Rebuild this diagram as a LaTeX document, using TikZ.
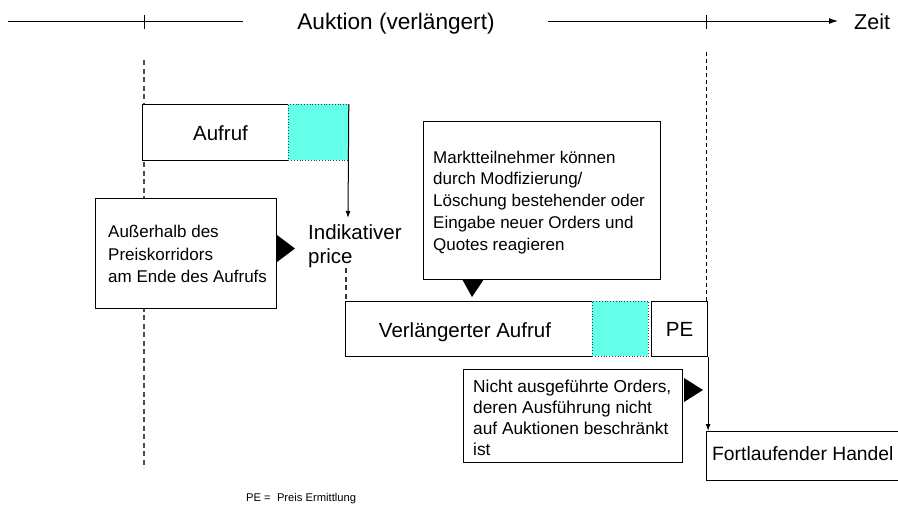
\documentclass[tikz,border=0pt]{standalone}
\usepackage{fontspec}
\setmainfont{Liberation Sans}
\usetikzlibrary{arrows.meta}
\definecolor{cyanfill}{RGB}{100,255,232}
\begin{document}
\begin{tikzpicture}[x=1pt,y=-1pt,
  box/.style={draw=black, line width=1.1pt, fill=white, inner sep=0pt, anchor=north west},
  cybox/.style={draw=black!75, dotted, line width=0.8pt, fill=cyanfill, inner sep=0pt, anchor=north west},
  bigtext/.style={font=\fontsize{20.5}{24}\selectfont, inner sep=0pt},
  smalltext/.style={font=\fontsize{17}{21.75}\selectfont, align=left, inner sep=0pt, anchor=north west},
  guide/.style={draw=black!70, line width=1.5pt, dash pattern=on 5pt off 3.5pt},
  guideb/.style={draw=black, line width=0.9pt, dash pattern=on 4pt off 3pt},
  axisline/.style={draw=black, line width=1pt},
  conn/.style={draw=black, line width=1pt, -{Latex[length=7pt,width=5pt]}},
  tri/.style={fill=black}]
\useasboundingbox (0,0) rectangle (898,506);
\clip (0,0) rectangle (898,506);
\fill[white] (0,0) rectangle (898,506);

% time axis
\coordinate (axL) at (8,21);
\coordinate (axLe) at (243,21);
\coordinate (axR) at (548,21);
\coordinate (axRe) at (838,21);
\draw[axisline] (axL) -- (axLe);
\draw[axisline,-{Latex[length=9pt,width=6pt]}] (axR) -- (axRe);
\draw[axisline] (144,15) -- (144,29);
\draw[axisline] (706.5,15) -- (706.5,29);
\node[font=\fontsize{22.6}{26}\selectfont, inner sep=0pt, anchor=base] (auk) at (396,29) {Auktion (verlängert)};
\node[font=\fontsize{21.5}{26}\selectfont, inner sep=0pt, anchor=base west] (zeit) at (854,29) {Zeit};

% guide lines
\draw[guide] (144,60) -- (144,468);
\draw[guideb] (706.5,52) -- (706.5,301);

% Aufruf
\node[box, minimum width=146, minimum height=56] (auf) at (142,104) {};
\node[cybox, minimum width=60, minimum height=56] (aufc) at (288,104) {};
\node[bigtext, anchor=base] (auft) at (220.5,140) {Aufruf};
\coordinate (indtop) at (348,218);
\draw[conn] (aufc.north east) -- (indtop);

% Indikativer price
\node[bigtext, align=left, anchor=north west] (ind) at (308,223) {\rule{0pt}{16pt}Indikativer\\price};
\coordinate (indbot) at (346,268);

% Ausserhalb
\node[box, minimum width=181, minimum height=110] (aus) at (95,198) {};
\node[smalltext, font=\fontsize{17}{22.5}\selectfont] (aust) at (108,224.5) {\rule{0pt}{13pt}Außerhalb des\\Preiskorridors\\am Ende des Aufrufs};
\fill[tri] (277,235) -- (277,262) -- (295,248.5) -- cycle;

% Marktteilnehmer
\node[box, minimum width=237, minimum height=158] (markt) at (423,121) {};
\node[smalltext] (marktt) at (433,150) {\rule{0pt}{13pt}Marktteilnehmer können\\durch Modfizierung/\\Löschung bestehender oder\\Eingabe neuer Orders und\\Quotes reagieren};
\fill[tri] (462,279) -- (484,279) -- (472,297) -- cycle;

% Verlaengerter Aufruf
\node[box, minimum width=247, minimum height=55] (ver) at (345,301) {};
\node[cybox, minimum width=56, minimum height=55] (verc) at (592,301) {};
\node[box, bigtext, minimum width=56, minimum height=55] (pe) at (651,301) {PE};
\node[bigtext, anchor=base] (vert) at (465,337) {Verlängerter Aufruf};
\draw[guide, line width=1.1pt, draw=black!80] (indbot) -- (indbot |- ver.north);

% Nicht ausgefuehrte Orders
\node[box, minimum width=219, minimum height=93] (nicht) at (463,369) {};
\node[smalltext, font=\fontsize{17.3}{21}\selectfont] (nichtt) at (473,379) {\rule{0pt}{13pt}Nicht ausgeführte Orders,\\deren Ausführung nicht\\auf Auktionen beschränkt\\ist};
\fill[tri] (684,378) -- (684,402) -- (703,390) -- cycle;

% Fortlaufender Handel
\node[box, minimum width=200, minimum height=49] (fh) at (706,431) {};
\node[font=\fontsize{19.3}{23}\selectfont, inner sep=0pt, anchor=base west] (fht) at (712,460) {Fortlaufender Handel};
\draw[conn] (pe.south east) -- (pe.south east |- fh.north);

% legend
\node[font=\fontsize{11.2}{13}\selectfont, inner sep=0pt, anchor=base west] (leg) at (246,501) {PE =\ \ Preis Ermittlung};
\end{tikzpicture}
\end{document}
